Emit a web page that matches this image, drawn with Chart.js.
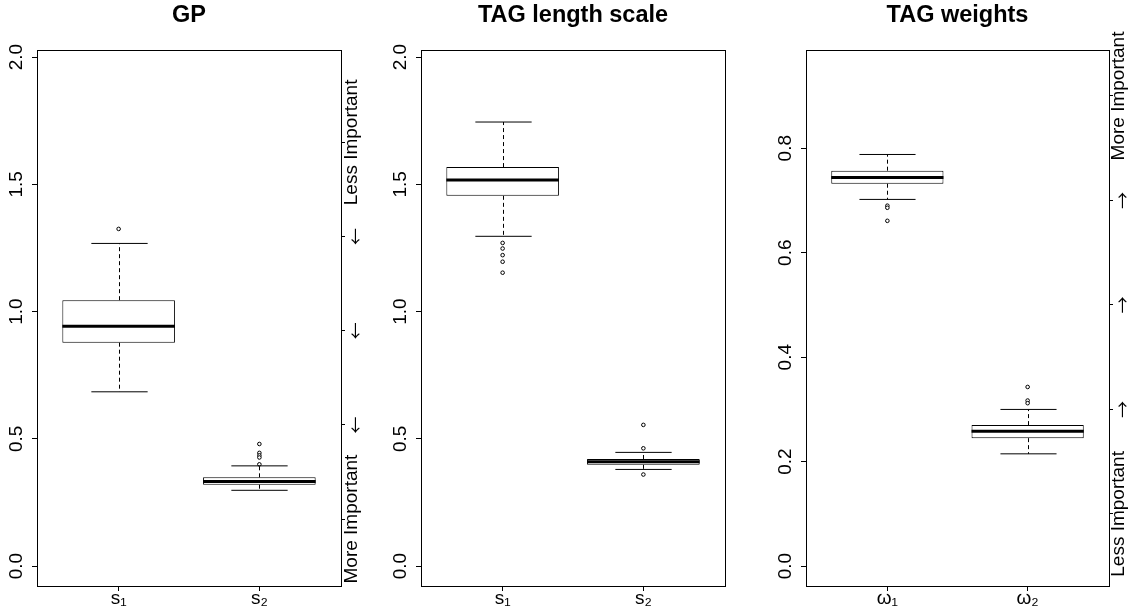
<!DOCTYPE html>
<html><head><meta charset="utf-8">
<script src="https://cdn.jsdelivr.net/npm/chart.js@4.4.1/dist/chart.umd.min.js"></script>
<style>
html,body{margin:0;padding:0;background:#fff;width:1133px;height:608px;overflow:hidden}
canvas.p{position:absolute;top:0}
</style></head><body>
<canvas id="c1" class="p" style="left:0px" width="380" height="608"></canvas>
<canvas id="c2" class="p" style="left:380px" width="380" height="608"></canvas>
<canvas id="c3" class="p" style="left:760px" width="373" height="608"></canvas>
<script>
const FONT = "'Liberation Sans', Arial, Helvetica, sans-serif";
const ARROW_FONT = "'Noto Sans CJK JP', 'DejaVu Sans', sans-serif";

// ---------- Panel 1: GP ----------
const gpTitle = 'GP';
const gpCategories = ['s\u2081', 's\u2082'];
const gpLowerWhisker = [0.685, 0.298];
const gpQ1 = [0.878, 0.320];
const gpMedian = [0.943, 0.333];
const gpQ3 = [1.045, 0.349];
const gpUpperWhisker = [1.268, 0.394];
const gpOutliers1 = [1.325];
const gpOutliers2 = [0.480, 0.445, 0.435, 0.427, 0.400];
const gpYTicks = [0, 0.5, 1.0, 1.5, 2.0];
const gpRightTicks = [0.185, 0.555, 0.925, 1.295, 1.665];
const gpRightLabels = ['More Important', '\u2190', '\u2190', '\u2190', 'Less Important'];

// ---------- Panel 2: TAG length scale ----------
const tlTitle = 'TAG length scale';
const tlCategories = ['s\u2081', 's\u2082'];
const tlLowerWhisker = [1.296, 0.380];
const tlQ1 = [1.455, 0.398];
const tlMedian = [1.517, 0.410];
const tlQ3 = [1.568, 0.421];
const tlUpperWhisker = [1.745, 0.447];
const tlOutliers1 = [1.270, 1.248, 1.222, 1.196, 1.153];
const tlOutliers2 = [0.555, 0.463, 0.360];
const tlYTicks = [0, 0.5, 1.0, 1.5, 2.0];

// ---------- Panel 3: TAG weights ----------
const twTitle = 'TAG weights';
const twCategories = ['\u03C9\u2081', '\u03C9\u2082'];
const twLowerWhisker = [0.702, 0.215];
const twQ1 = [0.732, 0.245];
const twMedian = [0.744, 0.258];
const twQ3 = [0.757, 0.270];
const twUpperWhisker = [0.788, 0.300];
const twOutliers1 = [0.690, 0.686, 0.661];
const twOutliers2 = [0.343, 0.317, 0.312];
const twYTicks = [0, 0.2, 0.4, 0.6, 0.8];
const twRightTicks = [0.1, 0.3, 0.5, 0.7, 0.9];
const twRightLabels = ['Less Important', '\u2192', '\u2192', '\u2192', 'More Important'];

const TICK_FONT = { family: FONT, size: 19 };

const boxPlugin = {
  id: 'boxExtras',
  afterDatasetsDraw(chart, args, opts) {
    const { ctx, chartArea: a, scales: { y } } = chart;
    const meta = chart.getDatasetMeta(0);
    const py = v => y.getPixelForValue(v);
    ctx.save();
    ctx.beginPath(); ctx.rect(a.left, a.top, a.width, a.height); ctx.clip();
    ctx.strokeStyle = '#000';
    meta.data.forEach((bar, i) => {
      const cx = Math.round(bar.x) + 0.5;
      const w = bar.width;
      ctx.lineWidth = 1;
      ctx.setLineDash([4, 3]);
      ctx.beginPath();
      ctx.moveTo(cx, py(opts.q3[i])); ctx.lineTo(cx, py(opts.hi[i]));
      ctx.moveTo(cx, py(opts.q1[i])); ctx.lineTo(cx, py(opts.lo[i]));
      ctx.stroke();
      ctx.setLineDash([]);
      ctx.beginPath();
      ctx.moveTo(cx - w / 4, py(opts.hi[i])); ctx.lineTo(cx + w / 4, py(opts.hi[i]));
      ctx.moveTo(cx - w / 4, py(opts.lo[i])); ctx.lineTo(cx + w / 4, py(opts.lo[i]));
      ctx.stroke();
      ctx.lineWidth = 3;
      ctx.beginPath();
      ctx.moveTo(bar.x - w / 2, py(opts.med[i])); ctx.lineTo(bar.x + w / 2, py(opts.med[i]));
      ctx.stroke();
    });
    ctx.restore();
  },
  afterDraw(chart, args, opts) {
    const { ctx, chartArea: a } = chart;
    ctx.save();
    ctx.strokeStyle = '#000'; ctx.lineWidth = 1;
    const l = Math.round(a.left) + 0.5, t = Math.round(a.top) + 0.5;
    const r = Math.round(a.right) + 0.5, b = Math.round(a.bottom) + 0.5;
    ctx.strokeRect(l, t, r - l, b - t);
    if (opts.rightLabels && chart.scales.y2) {
      const y2 = chart.scales.y2;
      ctx.fillStyle = '#000'; ctx.textAlign = 'center'; ctx.textBaseline = 'middle';
      opts.rightValues.forEach((v, i) => {
        const label = opts.rightLabels[i];
        const isArrow = label.length === 1;
        ctx.font = isArrow ? ('17px ' + ARROW_FONT) : (TICK_FONT.size + 'px ' + FONT);
        ctx.save();
        ctx.translate(a.right + opts.rightOffset + (isArrow ? 4 : 0), y2.getPixelForValue(v));
        ctx.rotate(-Math.PI / 2);
        ctx.fillText(label, 0, 0);
        ctx.restore();
      });
    }
    ctx.restore();
  }
};

function makePanel(id, p) {
  const outliers = [];
  p.out1.forEach(v => outliers.push({ x: 1, y: v }));
  p.out2.forEach(v => outliers.push({ x: 2, y: v }));
  const scales = {
    x: {
      type: 'linear', min: 0.42, max: 2.58, offset: false,
      afterBuildTicks: s => { s.ticks = p.cats.map((c, i) => ({ value: i + 1 })); },
      ticks: { callback: (v, i) => p.cats[i], font: TICK_FONT, color: '#000', padding: -4,
               autoSkip: false, minRotation: 0, maxRotation: 0 },
      grid: { offset: false, drawOnChartArea: false, drawTicks: true, tickLength: 5, color: '#000' },
      border: { display: false },
      afterFit: s => { s.height = 22; }
    },
    y: {
      type: 'linear', position: 'left', min: p.yMin, max: p.yMax,
      afterBuildTicks: s => { s.ticks = p.yTicks.map(v => ({ value: v })); },
      ticks: { callback: v => v.toFixed(1), font: TICK_FONT, color: '#000', padding: 2,
               minRotation: 90, maxRotation: 90, crossAlign: 'center', autoSkip: false },
      grid: { drawOnChartArea: false, drawTicks: true, tickLength: 5, color: '#000' },
      border: { display: false },
      afterFit: s => { s.width = p.leftW; }
    }
  };
  if (p.rightTicks) {
    scales.y2 = {
      type: 'linear', position: 'right', min: p.yMin, max: p.yMax,
      afterBuildTicks: s => { s.ticks = p.rightTicks.map(v => ({ value: v })); },
      ticks: { display: false },
      grid: { drawOnChartArea: false, drawTicks: true, tickLength: 4, color: '#000' },
      border: { display: false },
      afterFit: s => { s.width = p.rightW; }
    };
  }
  return new Chart(document.getElementById(id), {
    type: 'bar',
    data: {
      datasets: [
        {
          type: 'bar',
          data: p.cats.map((c, i) => ({ x: i + 1, y: [p.q1[i], p.q3[i]] })),
          backgroundColor: '#fff', borderColor: '#000', borderWidth: 1, borderSkipped: false,
          categoryPercentage: 1, barPercentage: 0.8
        },
        {
          type: 'scatter',
          data: outliers,
          pointRadius: 1.8, pointBorderWidth: 1, borderColor: '#000', backgroundColor: '#fff',
          pointStyle: 'circle'
        }
      ]
    },
    options: {
      responsive: false, animation: false, events: [],
      layout: { padding: { top: 0, bottom: 0, left: 0, right: p.rightPad || 0 } },
      scales,
      plugins: {
        legend: { display: false },
        tooltip: { enabled: false },
        title: {
          display: true, text: p.title, fullSize: false, color: '#000',
          font: { family: FONT, size: 23.5, weight: 'bold', lineHeight: 1.2 },
          padding: { top: 1.6, bottom: 20.2 }
        },
        boxExtras: {
          q1: p.q1, q3: p.q3, med: p.med, lo: p.lo, hi: p.hi,
          rightValues: p.rightTicks || null, rightLabels: p.rightLabels || null,
          rightOffset: p.rightOffset || 0
        }
      }
    },
    plugins: [boxPlugin]
  });
}

makePanel('c1', {
  title: gpTitle, cats: gpCategories, q1: gpQ1, q3: gpQ3, med: gpMedian,
  lo: gpLowerWhisker, hi: gpUpperWhisker, out1: gpOutliers1, out2: gpOutliers2,
  yMin: -0.078, yMax: 2.028, yTicks: gpYTicks,
  rightTicks: gpRightTicks, rightLabels: gpRightLabels, rightOffset: 11,
  leftW: 37, rightW: 39
});
makePanel('c2', {
  title: tlTitle, cats: tlCategories, q1: tlQ1, q3: tlQ3, med: tlMedian,
  lo: tlLowerWhisker, hi: tlUpperWhisker, out1: tlOutliers1, out2: tlOutliers2,
  yMin: -0.078, yMax: 2.028, yTicks: tlYTicks,
  leftW: 41, rightPad: 35
});
makePanel('c3', {
  title: twTitle, cats: twCategories, q1: twQ1, q3: twQ3, med: twMedian,
  lo: twLowerWhisker, hi: twUpperWhisker, out1: twOutliers1, out2: twOutliers2,
  yMin: -0.038, yMax: 0.988, yTicks: twYTicks,
  rightTicks: twRightTicks, rightLabels: twRightLabels, rightOffset: 10,
  leftW: 46, rightW: 24
});
</script>
</body></html>
